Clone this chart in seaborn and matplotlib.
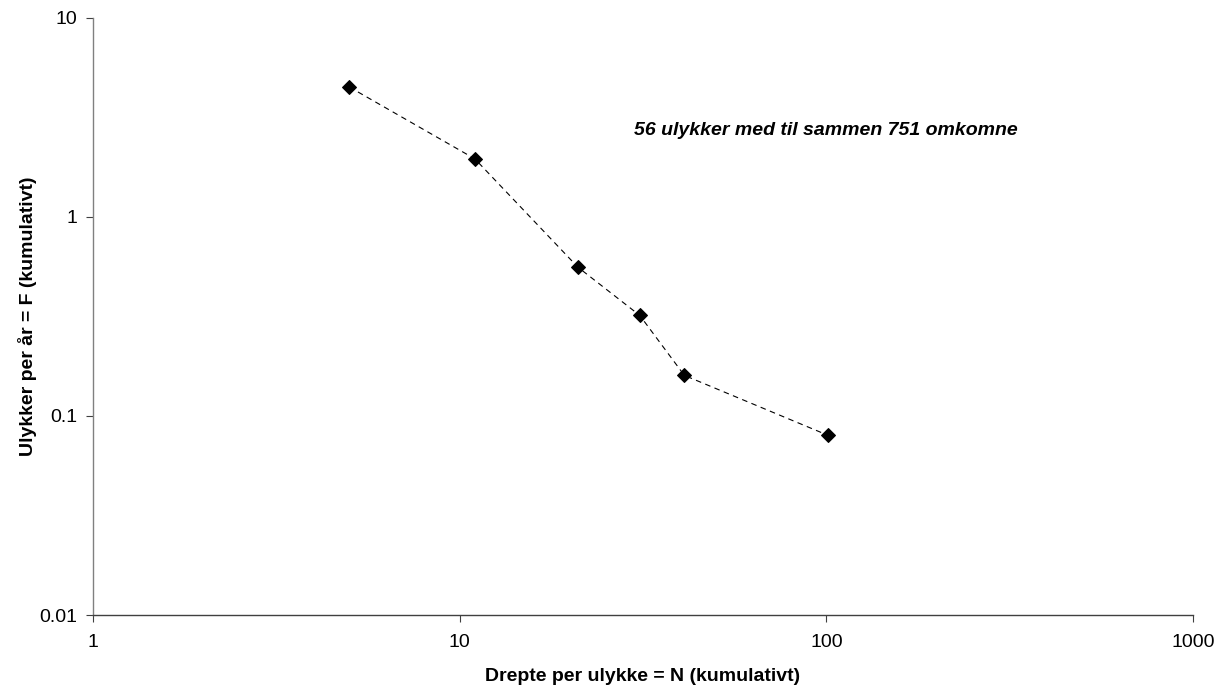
import matplotlib
matplotlib.use("Agg")
import matplotlib.pyplot as plt
import seaborn as sns
import pandas as pd
from matplotlib.ticker import FixedLocator, FixedFormatter, NullLocator

# Data
N_values = [5, 11, 21, 31, 41, 101]
F_values = [4.5, 1.96, 0.56, 0.32, 0.16, 0.08]
x_ticks = [1, 10, 100, 1000]
x_tick_labels = ["1", "10", "100", "1000"]
y_ticks = [0.01, 0.1, 1, 10]
y_tick_labels = ["0.01", "0.1", "1", "10"]
annotation = "56 ulykker med til sammen 751 omkomne"
x_label = "Drepte per ulykke = N (kumulativt)"
y_label = "Ulykker per år = F (kumulativt)"

sns.set_style("ticks")
plt.rcParams['font.family'] = ['Liberation Sans', 'DejaVu Sans']
plt.rcParams['text.color'] = 'black'
plt.rcParams['axes.labelcolor'] = 'black'

df = pd.DataFrame({"N": N_values, "F": F_values})

fig = plt.figure(figsize=(12.32, 6.91), dpi=100)
ax = fig.add_axes([93/1232, 76/691, 1100/1232, 597/691])

sns.lineplot(data=df, x="N", y="F", ax=ax, color="black", linestyle=(0, (5, 4)),
             linewidth=0.8, marker="D", markersize=7, markeredgecolor="black",
             markerfacecolor="black", sort=False)

ax.set_xscale("log")
ax.set_yscale("log")
ax.set_xlim(1, 1000)
ax.set_ylim(0.01, 10)
ax.xaxis.set_major_locator(FixedLocator(x_ticks))
ax.xaxis.set_major_formatter(FixedFormatter(x_tick_labels))
ax.yaxis.set_major_locator(FixedLocator(y_ticks))
ax.yaxis.set_major_formatter(FixedFormatter(y_tick_labels))
ax.xaxis.set_minor_locator(NullLocator())
ax.yaxis.set_minor_locator(NullLocator())

for s in ["top", "right"]:
    ax.spines[s].set_visible(False)
ax.spines["left"].set_color("#808080")
ax.spines["bottom"].set_color("#404040")
ax.spines["left"].set_linewidth(1.0)
ax.spines["bottom"].set_linewidth(1.0)
ax.tick_params(axis="y", direction="out", length=5, color="#404040", labelsize=14, pad=6, labelcolor="black")
ax.tick_params(axis="x", direction="out", length=5, color="#404040", labelsize=14, pad=9, labelcolor="black")

ax.set_xlabel(x_label, fontsize=14, fontweight="bold", labelpad=12, color="black")
ax.set_ylabel(y_label, fontsize=14, fontweight="bold", labelpad=2, color="black")

ax.text(10**((826-93)/366.7), 10**(1 - (131-18)/199), annotation, fontsize=14,
        fontweight="bold", fontstyle="italic", ha="center", va="center", color="black")

fig.savefig("out.png", dpi=100)
